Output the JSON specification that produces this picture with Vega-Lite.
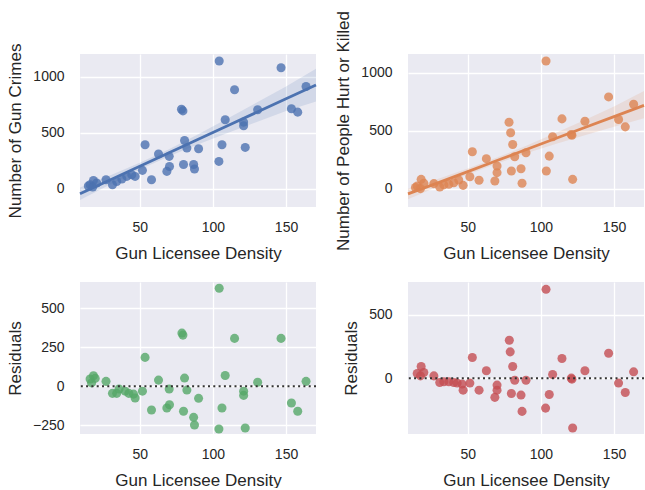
{
  "$schema": "https://vega.github.io/schema/vega-lite/v6.json",
  "background": "white",
  "padding": {"left": 6, "top": 10, "right": 0, "bottom": 0},
  "config": {
    "font": "Liberation Sans",
    "view": {"fill": "#EAEAF2", "stroke": null},
    "axis": {"domain": false, "ticks": false, "grid": true, "gridColor": "white", "gridWidth": 1.3,
      "labelFontSize": 14, "titleFontSize": 17, "labelColor": "#262626", "titleColor": "#262626",
      "titleFontWeight": "normal", "labelFont": "Liberation Sans", "titleFont": "Liberation Sans", "format": "d"},
    "axisX": {"labelPadding": 13, "titlePadding": 11},
    "axisY": {"labelPadding": 16, "titlePadding": 8}
  },
  "datasets": {
    "p1": [
      {"x":104.3,"y":1140},{"x":146.6,"y":1080},{"x":114.8,"y":884},{"x":163.7,"y":913},{"x":78.5,"y":710},{"x":79.5,"y":695},
      {"x":153.7,"y":714},{"x":158,"y":684},{"x":130.6,"y":705},{"x":108.4,"y":616},{"x":121,"y":595},{"x":121,"y":562},
      {"x":80.6,"y":431},{"x":82.2,"y":363},{"x":90.2,"y":357},{"x":106.2,"y":393},{"x":122.1,"y":369},{"x":53.6,"y":393},
      {"x":62.8,"y":310},{"x":70.1,"y":289},{"x":104.1,"y":244},{"x":79.9,"y":217},{"x":86.8,"y":217},{"x":87.4,"y":176},
      {"x":70.3,"y":199},{"x":68.5,"y":155},{"x":51.8,"y":164},{"x":58,"y":80},{"x":46.8,"y":110},{"x":44.5,"y":125},
      {"x":41.1,"y":110},{"x":37.7,"y":87},{"x":34.2,"y":65},{"x":31.3,"y":36},{"x":26.9,"y":80},{"x":18.3,"y":74},
      {"x":16,"y":36},{"x":17.8,"y":15},{"x":14.8,"y":24},{"x":20.5,"y":51}
    ],
    "b1": [
      {"x":9.1,"lo":-100,"hi":10,"fit":-45},{"x":30,"lo":41,"hi":121,"fit":81},{"x":50,"lo":171,"hi":231,"fit":201},
      {"x":70,"lo":289,"hi":353,"fit":321},{"x":90,"lo":397,"hi":487,"fit":442},{"x":110,"lo":497,"hi":627,"fit":562},
      {"x":130,"lo":597,"hi":769,"fit":683},{"x":150,"lo":693,"hi":913,"fit":803},{"x":170.5,"lo":780,"hi":1072,"fit":926}
    ],
    "p2": [
      {"x":103.5,"y":1103},{"x":146.3,"y":793},{"x":163.4,"y":729},{"x":153.1,"y":597},{"x":157.7,"y":534},{"x":130.1,"y":583},
      {"x":114.4,"y":603},{"x":120.8,"y":468},{"x":121.2,"y":462},{"x":108,"y":448},{"x":78.2,"y":574},{"x":79.3,"y":483},
      {"x":80.7,"y":382},{"x":82.1,"y":276},{"x":89.8,"y":310},{"x":105.7,"y":281},{"x":103.7,"y":152},{"x":121.7,"y":80},
      {"x":53.1,"y":319},{"x":62.7,"y":259},{"x":70,"y":195},{"x":70,"y":138},{"x":68.5,"y":66},{"x":79.8,"y":152},
      {"x":86.4,"y":172},{"x":87.1,"y":46},{"x":57.7,"y":72},{"x":51.4,"y":103},{"x":46.8,"y":28},{"x":43.8,"y":74},
      {"x":40.4,"y":51},{"x":37,"y":37},{"x":33.6,"y":32},{"x":30.8,"y":14},{"x":26.8,"y":43},{"x":18.1,"y":80},
      {"x":19.9,"y":46},{"x":15.4,"y":23},{"x":17.6,"y":0},{"x":14.2,"y":9}
    ],
    "b2": [
      {"x":9.1,"lo":-91,"hi":-1,"fit":-46},{"x":30,"lo":20,"hi":86,"fit":52},{"x":50,"lo":122,"hi":174,"fit":147},
      {"x":70,"lo":218,"hi":268,"fit":243},{"x":90,"lo":306,"hi":370,"fit":338},{"x":110,"lo":385,"hi":481,"fit":433},
      {"x":130,"lo":462,"hi":594,"fit":528},{"x":150,"lo":535,"hi":711,"fit":623},{"x":170.5,"lo":608,"hi":845,"fit":720}
    ],
    "r1": [
      {"x":104.3,"r":630},{"x":78.8,"r":342},{"x":79.5,"r":329},{"x":114.8,"r":308},{"x":146.6,"r":308},{"x":53.6,"r":186},
      {"x":108.4,"r":70},{"x":80.6,"r":53},{"x":62.8,"r":40},{"x":26.9,"r":32},{"x":130.6,"r":26},{"x":163.7,"r":32},
      {"x":18.3,"r":68},{"x":16,"r":47},{"x":19.5,"r":51},{"x":17,"r":22},{"x":70.1,"r":-17},{"x":82.2,"r":-24},
      {"x":121,"r":-31},{"x":121,"r":-58},{"x":31.3,"r":-45},{"x":34.2,"r":-45},{"x":35.8,"r":-17},{"x":40,"r":-31},
      {"x":42.5,"r":-45},{"x":45.7,"r":-50},{"x":46.8,"r":-75},{"x":51.8,"r":-31},{"x":90.2,"r":-77},{"x":153.7,"r":-107},
      {"x":158,"r":-160},{"x":58,"r":-152},{"x":68.5,"r":-139},{"x":70.3,"r":-118},{"x":106.2,"r":-139},{"x":79.9,"r":-160},
      {"x":86.8,"r":-199},{"x":87.4,"r":-248},{"x":104.1,"r":-274},{"x":122.1,"r":-267}
    ],
    "r2": [
      {"x":103.5,"r":703},{"x":78.4,"r":300},{"x":79,"r":208},{"x":146.3,"r":197},{"x":53.1,"r":163},{"x":114.4,"r":156},
      {"x":80.7,"r":92},{"x":62.7,"r":58},{"x":130.1,"r":58},{"x":163.4,"r":50},{"x":108,"r":29},{"x":18.1,"r":92},
      {"x":15.4,"r":37},{"x":19.9,"r":45},{"x":17.6,"r":18},{"x":26.8,"r":18},{"x":120.8,"r":0},{"x":121.2,"r":-8},
      {"x":82.1,"r":-16},{"x":89.8,"r":-16},{"x":30.8,"r":-34},{"x":33.6,"r":-29},{"x":37,"r":-29},{"x":40.4,"r":-34},
      {"x":42.7,"r":-39},{"x":46.1,"r":-47},{"x":46.8,"r":-95},{"x":51.4,"r":-39},{"x":57.7,"r":-95},{"x":70,"r":-55},
      {"x":70,"r":-95},{"x":68.5,"r":-152},{"x":79.8,"r":-121},{"x":86.4,"r":-134},{"x":87.1,"r":-263},{"x":105.7,"r":-129},
      {"x":103.2,"r":-237},{"x":153.1,"r":-39},{"x":157.7,"r":-113},{"x":121.7,"r":-395}
    ],
    "zero": [{"z": 0}]
  },
  "columns": 2,
  "bounds": "flush",
  "spacing": {"row": 75, "column": 92},
  "concat": [
    {
      "width": 236, "height": 153,
      "layer": [
        {"data": {"name": "p1"}, "mark": {"type": "circle", "size": 82, "opacity": 0.8, "color": "#4C72B0"},
         "encoding": {
           "x": {"field": "x", "type": "quantitative", "scale": {"domain": [9.1, 170.5], "nice": false, "zero": false}, "axis": {"values": [50, 100, 150]}, "title": "Gun Licensee Density"},
           "y": {"field": "y", "type": "quantitative", "scale": {"domain": [-163, 1203], "nice": false, "zero": false}, "axis": {"values": [0, 500, 1000]}, "title": "Number of Gun Crimes"}}},
        {"data": {"name": "b1"}, "mark": {"type": "area", "color": "#4C72B0", "opacity": 0.15},
         "encoding": {
           "x": {"field": "x", "type": "quantitative", "title": "Gun Licensee Density"},
           "y": {"field": "lo", "type": "quantitative", "title": "Number of Gun Crimes"},
           "y2": {"field": "hi"}}},
        {"data": {"name": "b1"}, "mark": {"type": "line", "color": "#4C72B0", "strokeWidth": 2.8},
         "encoding": {
           "x": {"field": "x", "type": "quantitative", "title": "Gun Licensee Density"},
           "y": {"field": "fit", "type": "quantitative", "title": "Number of Gun Crimes"}}}
      ]
    },
    {
      "width": 236, "height": 153,
      "layer": [
        {"data": {"name": "p2"}, "mark": {"type": "circle", "size": 82, "opacity": 0.8, "color": "#DD8452"},
         "encoding": {
           "x": {"field": "x", "type": "quantitative", "scale": {"domain": [9.1, 170.5], "nice": false, "zero": false}, "axis": {"values": [50, 100, 150]}, "title": "Gun Licensee Density"},
           "y": {"field": "y", "type": "quantitative", "scale": {"domain": [-159, 1164], "nice": false, "zero": false}, "axis": {"values": [0, 500, 1000]}, "title": "Number of People Hurt or Killed"}}},
        {"data": {"name": "b2"}, "mark": {"type": "area", "color": "#DD8452", "opacity": 0.15},
         "encoding": {
           "x": {"field": "x", "type": "quantitative", "title": "Gun Licensee Density"},
           "y": {"field": "lo", "type": "quantitative", "title": "Number of People Hurt or Killed"},
           "y2": {"field": "hi"}}},
        {"data": {"name": "b2"}, "mark": {"type": "line", "color": "#DD8452", "strokeWidth": 2.8},
         "encoding": {
           "x": {"field": "x", "type": "quantitative", "title": "Gun Licensee Density"},
           "y": {"field": "fit", "type": "quantitative", "title": "Number of People Hurt or Killed"}}}
      ]
    },
    {
      "width": 236, "height": 152,
      "layer": [
        {"data": {"name": "r1"}, "mark": {"type": "circle", "size": 82, "opacity": 0.8, "color": "#55A868"},
         "encoding": {
           "x": {"field": "x", "type": "quantitative", "scale": {"domain": [9.1, 170.5], "nice": false, "zero": false}, "axis": {"values": [50, 100, 150]}, "title": "Gun Licensee Density"},
           "y": {"field": "r", "type": "quantitative", "scale": {"domain": [-306, 670], "nice": false, "zero": false}, "axis": {"values": [-250, 0, 250, 500]}, "title": "Residuals"}}},
        {"data": {"name": "zero"}, "mark": {"type": "rule", "color": "#333333", "strokeWidth": 2, "strokeDash": [2, 3.3]},
         "encoding": {"y": {"field": "z", "type": "quantitative", "title": "Residuals"}}}
      ]
    },
    {
      "width": 236, "height": 152,
      "layer": [
        {"data": {"name": "r2"}, "mark": {"type": "circle", "size": 82, "opacity": 0.8, "color": "#C44E52"},
         "encoding": {
           "x": {"field": "x", "type": "quantitative", "scale": {"domain": [9.1, 170.5], "nice": false, "zero": false}, "axis": {"values": [50, 100, 150]}, "title": "Gun Licensee Density"},
           "y": {"field": "r", "type": "quantitative", "scale": {"domain": [-442, 761], "nice": false, "zero": false}, "axis": {"values": [0, 500]}, "title": "Residuals"}}},
        {"data": {"name": "zero"}, "mark": {"type": "rule", "color": "#333333", "strokeWidth": 2, "strokeDash": [2, 3.3]},
         "encoding": {"y": {"field": "z", "type": "quantitative", "title": "Residuals"}}}
      ]
    }
  ]
}
